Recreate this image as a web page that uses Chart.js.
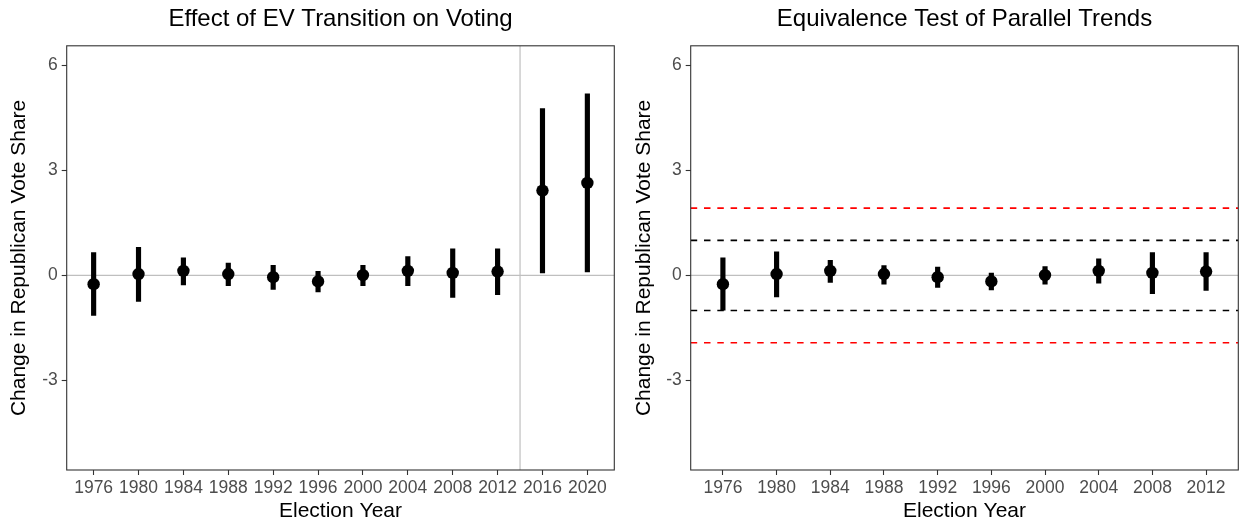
<!DOCTYPE html>
<html>
<head>
<meta charset="utf-8">
<title>EV transition and Republican vote share</title>
<script src="https://cdn.jsdelivr.net/npm/chart.js@4.4.1/dist/chart.umd.min.js"></script>
<style>
  body { margin: 0; background: #fff; }
  #wrap { position: relative; width: 1239px; height: 525px; overflow: hidden; }
  canvas { position: absolute; top: 0; }
  #evChart { left: 0; }
  #eqChart { left: 625px; }
</style>
</head>
<body>
<div id="wrap">
  <canvas id="evChart" width="625" height="525"></canvas>
  <canvas id="eqChart" width="614" height="525"></canvas>
</div>
<script>
// election years on the x axis
const years = ['1976', '1980', '1984', '1988', '1992', '1996', '2000', '2004', '2008', '2012', '2016', '2020'];

// event-study estimates with 95% intervals
const effect = [-0.25, 0.04, 0.13, 0.04, -0.05, -0.17, 0.01, 0.13, 0.07, 0.11, 2.42, 2.64];
const effectLow = [-1.14, -0.74, -0.27, -0.29, -0.40, -0.47, -0.29, -0.29, -0.63, -0.55, 0.07, 0.10];
const effectHigh = [0.65, 0.80, 0.50, 0.35, 0.29, 0.12, 0.29, 0.54, 0.76, 0.76, 4.76, 5.18];

// pre-period estimates with 90% intervals for the equivalence test
const preYears = years.slice(0, 10);
const preEffect = effect.slice(0, 10);
const preLow = [-0.99, -0.61, -0.20, -0.25, -0.34, -0.41, -0.25, -0.22, -0.52, -0.43];
const preHigh = [0.50, 0.67, 0.43, 0.28, 0.24, 0.07, 0.25, 0.47, 0.65, 0.65];

// equivalence bounds
const innerBound = 1.0;
const outerBound = 1.92;

// treatment starts between 2012 and 2016
const treatStart = 9.5;

const yTicks = [-3, 0, 3, 6];
const yMin = -5.55;
const yMax = 6.55;

const FONT = "'Liberation Sans', Arial, Helvetica, sans-serif";

// ggplot-style box round the panel
const panelBorder = {
  id: 'panelBorder',
  afterDatasetsDraw(chart) {
    const { ctx, chartArea: a } = chart;
    ctx.save();
    ctx.strokeStyle = '#333333';
    ctx.lineWidth = 1.1;
    ctx.strokeRect(a.left, a.top, a.right - a.left, a.bottom - a.top);
    ctx.restore();
  }
};

function hline(y, xMax, color, width, dash) {
  return {
    type: 'line',
    data: [{ x: -0.6, y: y }, { x: xMax, y: y }],
    borderColor: color,
    borderWidth: width,
    borderDash: dash || [],
    pointRadius: 0,
    order: 3
  };
}

function makeChart(id, opts) {
  const n = opts.labels.length;
  const xMax = n - 1 + 0.6;
  const refLines = opts.refLines(xMax);

  return new Chart(document.getElementById(id), {
    type: 'line',
    data: {
      datasets: refLines.concat([
        {
          type: 'bar',
          data: opts.labels.map((_, i) => ({ x: i, y: [opts.low[i], opts.high[i]] })),
          backgroundColor: '#000',
          borderWidth: 0,
          barThickness: 4.5,
          order: 2
        },
        {
          type: 'line',
          data: opts.labels.map((_, i) => ({ x: i, y: opts.est[i] })),
          showLine: false,
          pointRadius: 6.2,
          pointBackgroundColor: '#000',
          pointBorderWidth: 0,
          order: 1
        }
      ])
    },
    options: {
      responsive: false,
      animation: false,
      events: [],
      devicePixelRatio: 1,
      layout: { autoPadding: false, padding: { left: 0, right: opts.padRight, top: 0, bottom: 0 } },
      plugins: {
        legend: { display: false },
        tooltip: { enabled: false },
        title: {
          display: true,
          text: opts.title,
          fullSize: false,
          color: '#000',
          font: { family: FONT, size: 24, weight: 'normal', lineHeight: 1.2 },
          padding: { top: 4.5, bottom: 12.5 }
        }
      },
      scales: {
        x: {
          type: 'linear',
          min: -0.6,
          max: xMax,
          offset: false,
          afterFit: s => {
            s.height = 55;
            s.paddingLeft = 0;
            s.paddingRight = 0;
          },
          afterBuildTicks: s => { s.ticks = opts.labels.map((_, i) => ({ value: i })); },
          ticks: {
            callback: v => opts.labels[v],
            autoSkip: false,
            maxRotation: 0,
            color: '#4d4d4d',
            padding: 3,
            font: { family: FONT, size: 17.5 }
          },
          grid: { drawOnChartArea: false, offset: false, tickLength: 5, tickColor: '#333', tickWidth: 1.1 },
          border: { display: false },
          title: {
            display: true,
            text: 'Election Year',
            color: '#000',
            font: { family: FONT, size: 21, lineHeight: 1.2 },
            padding: { top: 0, bottom: 1 }
          }
        },
        y: {
          type: 'linear',
          min: yMin,
          max: yMax,
          afterFit: s => { s.width = opts.yWidth; },
          afterBuildTicks: s => { s.ticks = yTicks.map(v => ({ value: v })); },
          ticks: {
            color: '#4d4d4d',
            padding: 4,
            font: { family: FONT, size: 17.5 }
          },
          grid: { drawOnChartArea: false, tickLength: 5, tickColor: '#333', tickWidth: 1.1 },
          border: { display: false },
          title: {
            display: true,
            text: 'Change in Republican Vote Share',
            color: '#000',
            font: { family: FONT, size: 21, lineHeight: 1.2 },
            padding: { top: 7, bottom: 0 }
          }
        }
      }
    },
    plugins: [panelBorder]
  });
}

makeChart('evChart', {
  title: 'Effect of EV Transition on Voting',
  labels: years,
  est: effect,
  low: effectLow,
  high: effectHigh,
  yWidth: 66.7,
  padRight: 10.7,
  refLines: xMax => [
    hline(0, xMax, '#bfbfbf', 1.2),
    {
      type: 'line',
      data: [{ x: treatStart, y: yMin }, { x: treatStart, y: yMax }],
      borderColor: '#bfbfbf',
      borderWidth: 1.2,
      pointRadius: 0,
      order: 3
    }
  ]
});

makeChart('eqChart', {
  title: 'Equivalence Test of Parallel Trends',
  labels: preYears,
  est: preEffect,
  low: preLow,
  high: preHigh,
  yWidth: 65.7,
  padRight: 0.7,
  refLines: xMax => [
    hline(0, xMax, '#bfbfbf', 1.2),
    hline(innerBound, xMax, '#000', 1.6, [6.5, 6.8]),
    hline(-innerBound, xMax, '#000', 1.6, [6.5, 6.8]),
    hline(outerBound, xMax, '#ff0000', 1.6, [6.5, 6.8]),
    hline(-outerBound, xMax, '#ff0000', 1.6, [6.5, 6.8])
  ]
});
</script>
</body>
</html>
